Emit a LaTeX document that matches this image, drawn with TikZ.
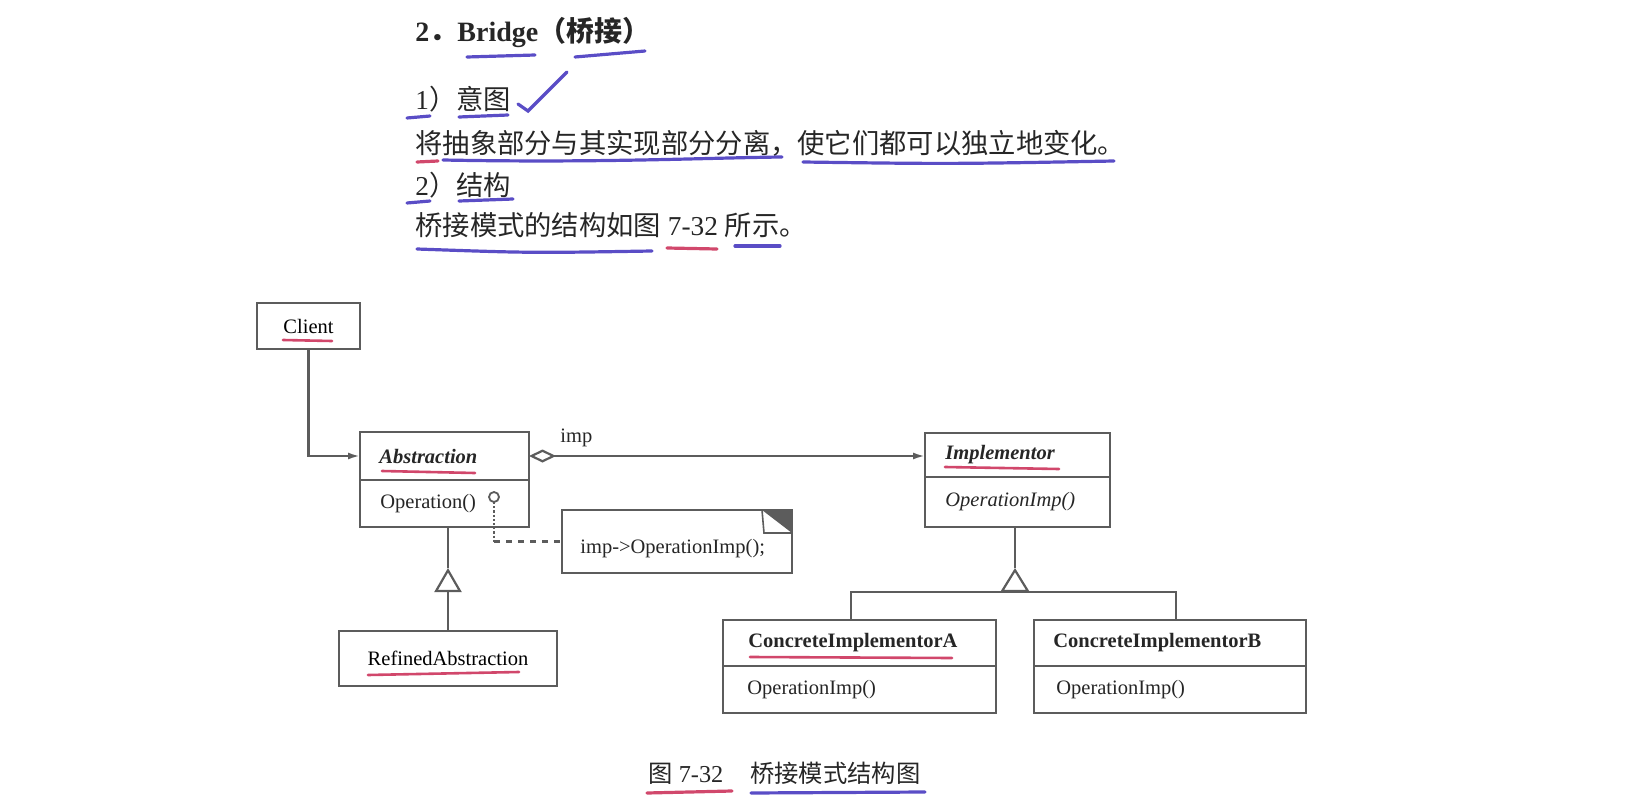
\documentclass[tikz,border=0pt]{standalone}
\usepackage{fontspec}
\setmainfont{Liberation Serif}
\newfontfamily\cjk{Noto Sans CJK SC}
\usetikzlibrary{arrows.meta}

\definecolor{penblue}{RGB}{72,58,192}
\definecolor{penred}{RGB}{204,52,92}
\definecolor{umlgray}{RGB}{92,92,92}

\newcommand{\hdsize}{\fontsize{13.65pt}{16pt}\selectfont}
\newcommand{\umlsize}{\fontsize{10.25pt}{12pt}\selectfont}

\tikzset{
  classbox/.style 2 args={draw=umlgray, line width=1.1pt, fill=white, anchor=north west,
    inner sep=0pt, outer sep=0pt, minimum width=#1, minimum height=#2, font=\umlsize},
  umltext/.style={anchor=west, inner sep=0pt, font=\umlsize, text=black!85},
  umlline/.style={draw=umlgray, line width=1.1pt},
  hdtext/.style={anchor=west, inner sep=0pt, font=\hdsize, text=black!85},
  pen/.style={line width=1.6pt, line cap=round, opacity=0.9},
}

\begin{document}
\begin{tikzpicture}[x=0.5pt, y=-0.5pt, >=Latex]
  \useasboundingbox (0,0) rectangle (1635,803);

  % Kopfzeilen
  \node[hdtext] (title) at (415,33)
    {{\fontsize{14pt}{16pt}\selectfont\bfseries 2{\cjk ．}Bridge{\cjk （桥接）}}};
  \node[hdtext] (intent) at (415,99) {1{\cjk ）意图}};
  \node[hdtext] (intenttxt) at (415,143) {\cjk 将抽象部分与其实现部分分离，使它们都可以独立地变化。};
  \node[hdtext] (struct) at (415,185) {2{\cjk ）结构}};
  \node[hdtext] (structtxt) at (415,225) {{\cjk 桥接模式的结构如图} 7-32 {\cjk 所示。}};

  % Handschriftliche Markierungen
  \draw[pen, penblue] (467,57) -- (535,55);
  \draw[pen, penblue] (575,57) -- (645,51);
  \draw[pen, penblue] (518,104) -- (528,111) -- (567,72);
  \draw[pen, penblue] (407,118) -- (430,116);
  \draw[pen, penblue] (459,117) -- (508,115);
  \draw[pen, penred] (417,162) -- (438,161);
  \draw[pen, penblue] (443,160) .. controls (600,163) and (700,158) .. (782,157);
  \draw[pen, penblue] (803,162) .. controls (950,164) .. (1114,161);
  \draw[pen, penblue] (407,203) -- (430,201);
  \draw[pen, penblue] (459,201) -- (513,199);
  \draw[pen, penblue] (417,249) .. controls (530,253) .. (652,251);
  \draw[pen, penred] (667,248) -- (717,249);
  \draw[pen, penblue] (735,246) -- (780,246);

  % Client
  \node[classbox={51.5pt}{23pt}] (client) at (257,303) {Client};

  % Abstraction
  \node[classbox={84.5pt}{24pt}] (abs) at (360,432) {};
  \node[classbox={84.5pt}{23.5pt}] (absops) at (abs.south west) {};
  \node[umltext] (absname) at ([xshift=9.5pt]abs.west) {\bfseries\itshape Abstraction};
  \node[umltext] (absop) at ([xshift=10pt]absops.west) {Operation()};

  % Implementor
  \node[classbox={92.5pt}{22pt}] (impl) at (925,433) {};
  \node[classbox={92.5pt}{25pt}] (implops) at (impl.south west) {};
  \node[umltext] (implname) at ([xshift=10pt]impl.west) {\bfseries\itshape Implementor};
  \node[umltext] (implop) at ([xshift=10pt]implops.west) {\itshape OperationImp()};

  % RefinedAbstraction
  \node[classbox={109pt}{27.5pt}] (refined) at (339,631) {RefinedAbstraction};

  % ConcreteImplementorA / B
  \node[classbox={136.5pt}{23pt}] (ca) at (723,620) {};
  \node[classbox={136.5pt}{23.5pt}] (caops) at (ca.south west) {};
  \node[umltext] (caname) at ([xshift=12.5pt]ca.west) {\bfseries ConcreteImplementorA};
  \node[umltext] (caop) at ([xshift=12pt]caops.west) {OperationImp()};
  \node[classbox={136pt}{23pt}] (cb) at (1034,620) {};
  \node[classbox={136pt}{23.5pt}] (cbops) at (cb.south west) {};
  \node[umltext] (cbname) at ([xshift=9.5pt]cb.west) {\bfseries ConcreteImplementorB};
  \node[umltext] (cbop) at ([xshift=11pt]cbops.west) {OperationImp()};

  % Notiz mit Eselsohr
  \node[classbox={115pt}{31.5pt}] (note) at (562,510) {};
  \node[umltext] (notetxt) at (580,549) {imp-{}>OperationImp();};
  \fill[umlgray] ([xshift=-15pt]note.north east) -- (note.north east)
    -- ([yshift=-11.5pt]note.north east) -- cycle;
  \draw[draw=umlgray, line width=0.8pt] ([xshift=-15pt]note.north east)
    -- ([xshift=-14pt,yshift=-11.5pt]note.north east) -- ([yshift=-11.5pt]note.north east);

  % Verbindungen
  \draw[umlline, -{Latex[length=6pt,width=3.5pt]}] (client.south) |- (abs.west);
  \draw[umlline, {Diamond[open,length=13.5pt,width=6.5pt]}-{Latex[length=6pt,width=3.5pt]}]
    (abs.east) -- (abs.east -| impl.west);
  \node[umltext] (implbl) at (560,438) {imp};

  % Lutscher zur Notiz
  \coordinate (lol) at (494,502);
  \coordinate (bend) at (lol |- note.west);
  \draw[draw=umlgray, line width=0.9pt] (494,497) circle (2.5pt);
  \draw[draw=umlgray, line width=1.1pt, densely dotted] (lol) -- (bend);
  \draw[draw=umlgray, line width=1.1pt, dashed] (bend) -- (note.west);

  % Vererbung
  \coordinate (tipA) at (448,568);
  \draw[umlline] (tipA) -- (tipA |- absops.south);
  \draw[umlline, -{Triangle[open,length=12pt,width=13.5pt]}] (tipA |- refined.north) -- (tipA);

  \coordinate (tipB) at (1015,568);
  \coordinate (fork) at (1015,592);
  \draw[umlline] (tipB) -- (tipB |- implops.south);
  \draw[umlline, -{Triangle[open,length=12pt,width=14.5pt]}] (fork) -- (tipB);
  \draw[umlline] ([xshift=-4.25pt]ca.north) |- (fork) -| ([xshift=3pt]cb.north);

  % Rote Unterstreichungen im Diagramm
  \draw[pen, penred, line width=1.3pt] (283,340) -- (332,341);
  \draw[pen, penred, line width=1.3pt] (382,471) -- (475,473);
  \draw[pen, penred, line width=1.3pt] (945,467) -- (1059,469);
  \draw[pen, penred, line width=1.3pt] (368,675) -- (519,672);
  \draw[pen, penred, line width=1.3pt] (750,657) -- (952,658);

  % Bildunterschrift
  \node[anchor=west, inner sep=0pt, font=\fontsize{12.15pt}{14pt}\selectfont, text=black!85] (caption)
    at (648,773) {{\cjk 图} 7-32\hspace{13.5pt}{\cjk 桥接模式结构图}};
  \draw[pen, penred] (647,793) -- (732,791);
  \draw[pen, penblue] (751,793) -- (925,792);
\end{tikzpicture}
\end{document}
